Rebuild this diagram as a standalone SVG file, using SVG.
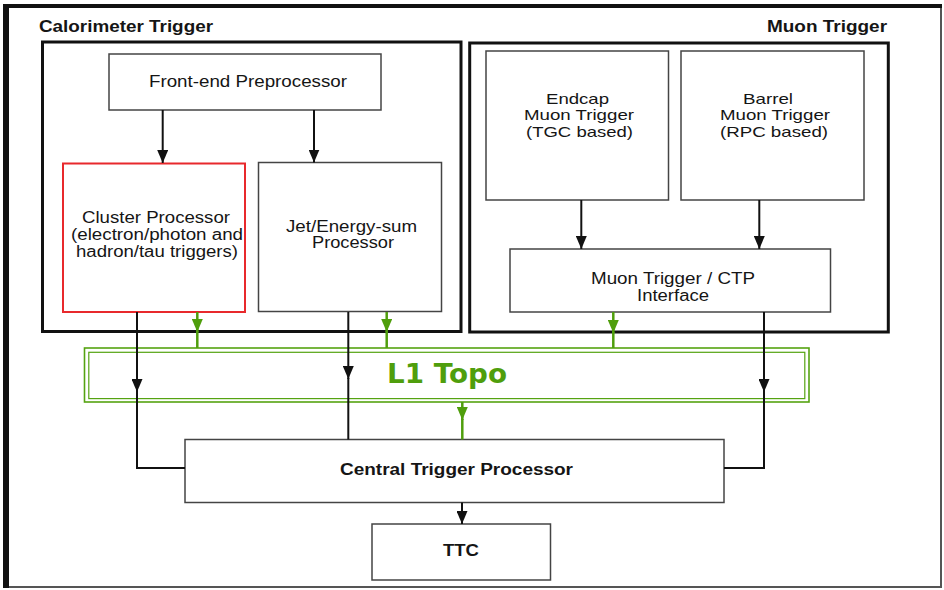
<svg xmlns="http://www.w3.org/2000/svg" width="944" height="590" viewBox="0 0 944 590">
  <style>
    .box { fill: #ffffff; stroke: #444444; stroke-width: 1.5; }
    .group { fill: none; stroke: #111111; stroke-width: 3; }
    .red { fill: #ffffff; stroke: #e8292c; stroke-width: 2; }
    .topo { fill: none; stroke: #55a311; }
    .lbl { font-family: "Liberation Sans", Arial, sans-serif; font-size: 16px; fill: #151515; text-anchor: middle; }
    .tight { font-size: 14.5px; }
    .bold { font-weight: bold; }
    .title { font-family: "Liberation Sans", Arial, sans-serif; font-size: 16px; font-weight: bold; fill: #151515; }
    .wire { fill: none; stroke: #111111; stroke-width: 2; }
    .gwire { fill: none; stroke: #4f9e0c; stroke-width: 2.5; }
  </style>
  <defs>
    <marker id="arrow" viewBox="0 0 13 11" refX="13" refY="5.5" markerWidth="13" markerHeight="11" markerUnits="userSpaceOnUse" orient="auto">
      <path d="M0 0 L13 5.5 L0 11 Z" fill="#111111"/>
    </marker>
    <marker id="garrow" viewBox="0 0 13 11" refX="13" refY="5.5" markerWidth="13" markerHeight="11" markerUnits="userSpaceOnUse" orient="auto">
      <path d="M0 0 L13 5.5 L0 11 Z" fill="#4f9e0c"/>
    </marker>
  </defs>

  <rect width="944" height="590" fill="#ffffff"/>

  <!-- outer frame: heavy top/left edges, light right/bottom edges -->
  <g id="frame">
    <line x1="941" y1="5" x2="941" y2="588" stroke="#555555" stroke-width="2"/>
    <line x1="4" y1="587" x2="942" y2="587" stroke="#555555" stroke-width="2"/>
    <line x1="3" y1="6" x2="942" y2="6" stroke="#111111" stroke-width="4"/>
    <line x1="6" y1="4" x2="6" y2="588" stroke="#111111" stroke-width="6"/>
  </g>

  <!-- subsystem containers -->
  <g id="calorimeter-trigger">
    <rect class="group" x="42.5" y="42" width="418.5" height="289.5"/>
    <text class="title" x="39" y="32" textLength="174" lengthAdjust="spacingAndGlyphs">Calorimeter Trigger</text>
  </g>
  <g id="muon-trigger">
    <rect class="group" x="469.7" y="43" width="418.6" height="289"/>
    <text class="title" x="767" y="32" textLength="120" lengthAdjust="spacingAndGlyphs">Muon Trigger</text>
  </g>

  <g id="front-end-preprocessor">
    <rect class="box" x="109" y="54" width="272" height="56"/>
    <text class="lbl" x="248" y="87" textLength="198" lengthAdjust="spacingAndGlyphs">Front-end Preprocessor</text>
  </g>

  <g id="cluster-processor">
    <rect class="red" x="63" y="163.5" width="182" height="148.5"/>
    <text class="lbl" x="156" y="223" textLength="148" lengthAdjust="spacingAndGlyphs">Cluster Processor</text>
    <text class="lbl" x="157" y="240" textLength="172" lengthAdjust="spacingAndGlyphs">(electron/photon and</text>
    <text class="lbl" x="157" y="257" textLength="162" lengthAdjust="spacingAndGlyphs">hadron/tau triggers)</text>
  </g>

  <g id="jet-energy-sum-processor">
    <rect class="box" x="258.5" y="162.5" width="183" height="149"/>
    <text class="lbl" x="351.5" y="232" textLength="131" lengthAdjust="spacingAndGlyphs">Jet/Energy-sum</text>
    <text class="lbl" x="353" y="248" textLength="82" lengthAdjust="spacingAndGlyphs">Processor</text>
  </g>

  <g id="endcap-muon-trigger">
    <rect class="box" x="486" y="51" width="182.5" height="149"/>
    <text class="lbl tight" x="577.5" y="103.5" textLength="63" lengthAdjust="spacingAndGlyphs">Endcap</text>
    <text class="lbl tight" x="579" y="120" textLength="110" lengthAdjust="spacingAndGlyphs">Muon Trigger</text>
    <text class="lbl tight" x="579.5" y="136.5" textLength="107" lengthAdjust="spacingAndGlyphs">(TGC based)</text>
  </g>

  <g id="barrel-muon-trigger">
    <rect class="box" x="681" y="51" width="183" height="149"/>
    <text class="lbl tight" x="768" y="103.5" textLength="50" lengthAdjust="spacingAndGlyphs">Barrel</text>
    <text class="lbl tight" x="775" y="120" textLength="110" lengthAdjust="spacingAndGlyphs">Muon Trigger</text>
    <text class="lbl tight" x="774" y="136.5" textLength="108" lengthAdjust="spacingAndGlyphs">(RPC based)</text>
  </g>

  <g id="muon-ctp-interface">
    <rect class="box" x="510" y="249" width="320.5" height="63"/>
    <text class="lbl" x="673" y="284" textLength="164" lengthAdjust="spacingAndGlyphs">Muon Trigger / CTP</text>
    <text class="lbl" x="673" y="301" textLength="72" lengthAdjust="spacingAndGlyphs">Interface</text>
  </g>

  <g id="l1-topo">
    <rect class="topo" x="84.5" y="348" width="724.5" height="54" stroke-width="1.6"/>
    <rect class="topo" x="88.8" y="352.3" width="716" height="46.3" stroke-width="1.2"/>
    <text x="447" y="383" text-anchor="middle" font-family="DejaVu Sans, sans-serif" font-size="27" font-weight="bold" fill="#4f9e0c" textLength="120" lengthAdjust="spacingAndGlyphs">L1 Topo</text>
  </g>

  <g id="central-trigger-processor">
    <rect class="box" x="185" y="439.5" width="539" height="63"/>
    <text class="lbl bold" x="456.5" y="475" textLength="233" lengthAdjust="spacingAndGlyphs">Central Trigger Processor</text>
  </g>

  <g id="ttc">
    <rect class="box" x="372" y="524" width="178.5" height="56"/>
    <text class="lbl bold" x="461" y="556" textLength="36" lengthAdjust="spacingAndGlyphs">TTC</text>
  </g>

  <g id="connectors">
    <!-- calorimeter and muon internal paths -->
    <path class="wire" d="M162.7 110 V163" marker-end="url(#arrow)"/>
    <path class="wire" d="M314 110 V162.5" marker-end="url(#arrow)"/>
    <path class="wire" d="M581.3 200 V249" marker-end="url(#arrow)"/>
    <path class="wire" d="M759.3 200 V249" marker-end="url(#arrow)"/>

    <!-- direct paths to the CTP -->
    <path class="wire" d="M137 312 V392" marker-end="url(#arrow)"/>
    <path class="wire" d="M137 391 V468 H185"/>
    <path class="wire" d="M348.3 312 V379" marker-end="url(#arrow)"/>
    <path class="wire" d="M348.3 378 V439.5"/>
    <path class="wire" d="M764 312 V392" marker-end="url(#arrow)"/>
    <path class="wire" d="M764 391 V468 H724"/>
    <path class="wire" d="M462 502.5 V524" marker-end="url(#arrow)"/>

    <!-- paths through L1 Topo -->
    <path class="gwire" d="M197.3 312 V332" marker-end="url(#garrow)"/>
    <path class="gwire" d="M197.3 331 V348"/>
    <path class="gwire" d="M386.7 312 V332" marker-end="url(#garrow)"/>
    <path class="gwire" d="M386.7 331 V348"/>
    <path class="gwire" d="M613.3 312 V333" marker-end="url(#garrow)"/>
    <path class="gwire" d="M613.3 332 V348"/>
    <path class="gwire" d="M462.3 402 V420" marker-end="url(#garrow)"/>
    <path class="gwire" d="M462.3 419 V439.5"/>
  </g>
</svg>
